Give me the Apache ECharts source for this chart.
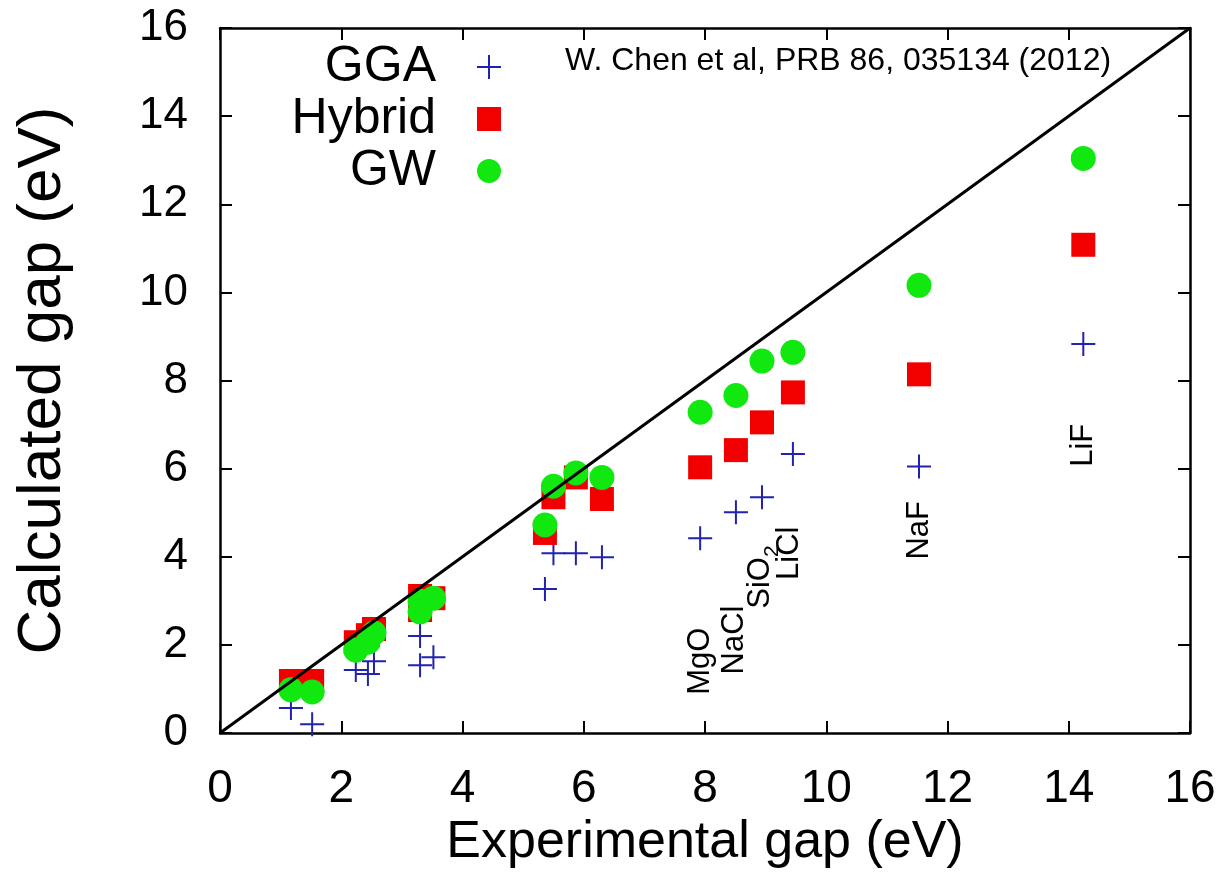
<!DOCTYPE html>
<html>
<head>
<meta charset="utf-8">
<script src="https://cdn.jsdelivr.net/npm/echarts@6/dist/echarts.min.js"></script>
<style>
  html, body { margin: 0; padding: 0; background: #ffffff; }
  #chart { width: 1231px; height: 894px; }
</style>
</head>
<body>
<div id="chart"></div>
<script>
// ---- data ----
const expGap = [1.17, 1.52, 2.24, 2.44, 2.54, 3.30, 3.30, 3.52, 5.36, 5.50, 5.87, 6.30, 7.92, 8.51, 8.94, 9.45, 11.53, 14.24];
const ggaGap = [0.57, 0.20, 1.43, 1.34, 1.63, 2.20, 1.54, 1.72, 3.27, 4.08, 4.08, 3.99, 4.42, 5.01, 5.35, 6.33, 6.05, 8.83];
const hybridGap = [1.18, 1.18, 2.06, 2.22, 2.36, 3.11, 2.79, 3.06, 4.54, 5.35, 5.80, 5.31, 6.03, 6.42, 7.05, 7.73, 8.14, 11.08];
const gwGap = [0.98, 0.93, 1.88, 2.06, 2.27, 2.99, 2.75, 3.06, 4.72, 5.60, 5.90, 5.80, 7.28, 7.66, 8.44, 8.64, 10.16, 13.04];

const seriesNames = ['GGA', 'Hybrid', 'GW'];
const diagonal = [0, 16];

const materialNames = ['MgO', 'NaCl', 'SiO2', 'LiCl', 'NaF', 'LiF'];
const materialLabelX = [7.92, 8.48, 8.91, 9.40, 11.53, 14.24];
const materialLabelY = [1.63, 2.11, 3.54, 4.08, 4.60, 6.53];

const axisTicks = [0, 2, 4, 6, 8, 10, 12, 14, 16];
const citation = 'W. Chen et al, PRB 86, 035134 (2012)';
const xTitle = 'Experimental gap (eV)';
const yTitle = 'Calculated gap (eV)';

// ---- build ----
const FONT = '"Liberation Sans", Arial, Helvetica, sans-serif';
const BLUE = '#2222b0';
const RED = '#f20000';
const GREEN = '#10e810';
const CROSS = 'path://M0,12L24,12M12,0L12,24';

const zip = (xs, ys) => xs.map((x, i) => [x, ys[i]]);

const axisLineStyle = { color: '#000', width: 2.5 };
const tickStyle = { show: true, inside: true, length: 12, lineStyle: { color: '#000', width: 2 } };
const tMin = axisTicks[0], tMax = axisTicks[axisTicks.length - 1], tInt = axisTicks[1] - axisTicks[0];

const chart = echarts.init(document.getElementById('chart'), null, { renderer: 'canvas' });

chart.setOption({
  backgroundColor: '#ffffff',
  animation: false,
  textStyle: { fontFamily: FONT, color: '#000' },
  title: {
    text: citation,
    left: 565, top: 45, padding: 0,
    textStyle: { fontFamily: FONT, fontSize: 32, fontWeight: 'normal', color: '#000' }
  },
  legend: {
    orient: 'vertical',
    align: 'right',
    right: 729,
    top: 42,
    padding: 0,
    itemGap: 2,
    itemWidth: 24,
    itemHeight: 24,
    selectedMode: false,
    textStyle: { fontFamily: FONT, fontSize: 50, lineHeight: 50, color: '#000', padding: [0, 36, 0, 0] },
    data: [
      { name: seriesNames[0], icon: CROSS, itemStyle: { color: 'transparent', borderColor: BLUE, borderWidth: 2, opacity: 1 } },
      { name: seriesNames[1], icon: 'rect', itemStyle: { color: RED, borderWidth: 0, opacity: 1 } },
      { name: seriesNames[2], icon: 'circle', itemStyle: { color: GREEN, borderWidth: 0, opacity: 1 } }
    ]
  },
  grid: { left: 220, right: 41, top: 28, bottom: 161, containLabel: false },
  xAxis: [
    {
      type: 'value', position: 'bottom', min: tMin, max: tMax, interval: tInt,
      name: xTitle, nameLocation: 'middle', nameGap: 84, nameMoveOverlap: false,
      nameTextStyle: { fontFamily: FONT, fontSize: 52, color: '#000' },
      axisLine: { show: true, onZero: false, lineStyle: axisLineStyle },
      axisTick: tickStyle,
      axisLabel: { fontFamily: FONT, fontSize: 46, color: '#000', margin: 33 },
      splitLine: { show: false }
    },
    {
      type: 'value', position: 'top', min: tMin, max: tMax, interval: tInt,
      axisLine: { show: true, onZero: false, lineStyle: axisLineStyle },
      axisTick: tickStyle,
      axisLabel: { show: false },
      splitLine: { show: false }
    }
  ],
  yAxis: [
    {
      type: 'value', position: 'left', min: tMin, max: tMax, interval: tInt,
      name: yTitle, nameLocation: 'middle', nameGap: 146, nameRotate: 90, nameMoveOverlap: false,
      nameTextStyle: { fontFamily: FONT, fontSize: 62, color: '#000' },
      axisLine: { show: true, onZero: false, lineStyle: axisLineStyle },
      axisTick: tickStyle,
      axisLabel: { fontFamily: FONT, fontSize: 44, color: '#000', margin: 32 },
      splitLine: { show: false }
    },
    {
      type: 'value', position: 'right', min: tMin, max: tMax, interval: tInt,
      axisLine: { show: true, onZero: false, lineStyle: axisLineStyle },
      axisTick: tickStyle,
      axisLabel: { show: false },
      splitLine: { show: false }
    }
  ],
  series: [
    {
      name: seriesNames[0], type: 'scatter', z: 2,
      symbol: CROSS, symbolSize: 24,
      itemStyle: { color: 'transparent', borderColor: BLUE, borderWidth: 2, opacity: 1 },
      data: zip(expGap, ggaGap)
    },
    {
      name: seriesNames[1], type: 'scatter', z: 3,
      symbol: 'rect', symbolSize: 24,
      itemStyle: { color: RED, opacity: 1 },
      data: zip(expGap, hybridGap)
    },
    {
      name: seriesNames[2], type: 'scatter', z: 4,
      symbol: 'circle', symbolSize: 25,
      itemStyle: { color: GREEN, opacity: 1 },
      data: zip(expGap, gwGap)
    },
    {
      name: 'y = x', type: 'line', z: 5,
      symbol: 'none',
      lineStyle: { color: '#000', width: 3 },
      data: zip(diagonal, diagonal),
      silent: true
    },
    {
      name: 'materials', type: 'scatter', z: 6,
      symbolSize: 1,
      itemStyle: { color: 'transparent', opacity: 1 },
      silent: true,
      data: materialNames.map((n, i) => ({ name: n, value: [materialLabelX[i], materialLabelY[i]] })),
      label: {
        show: true,
        position: 'inside',
        rotate: 90,
        align: 'center',
        verticalAlign: 'middle',
        color: '#000',
        opacity: 1,
        fontFamily: FONT,
        fontSize: 31,
        formatter: p => {
          const m = p.name.match(/^(.*?)(\d+)$/);
          return m ? '{a|' + m[1] + '}{b|' + m[2] + '}' : '{a|' + p.name + '}';
        },
        rich: {
          a: { fontFamily: FONT, fontSize: 31, color: '#000' },
          b: { fontFamily: FONT, fontSize: 21, color: '#000', padding: [24, 0, 0, 0] }
        }
      }
    }
  ]
});
</script>
</body>
</html>
